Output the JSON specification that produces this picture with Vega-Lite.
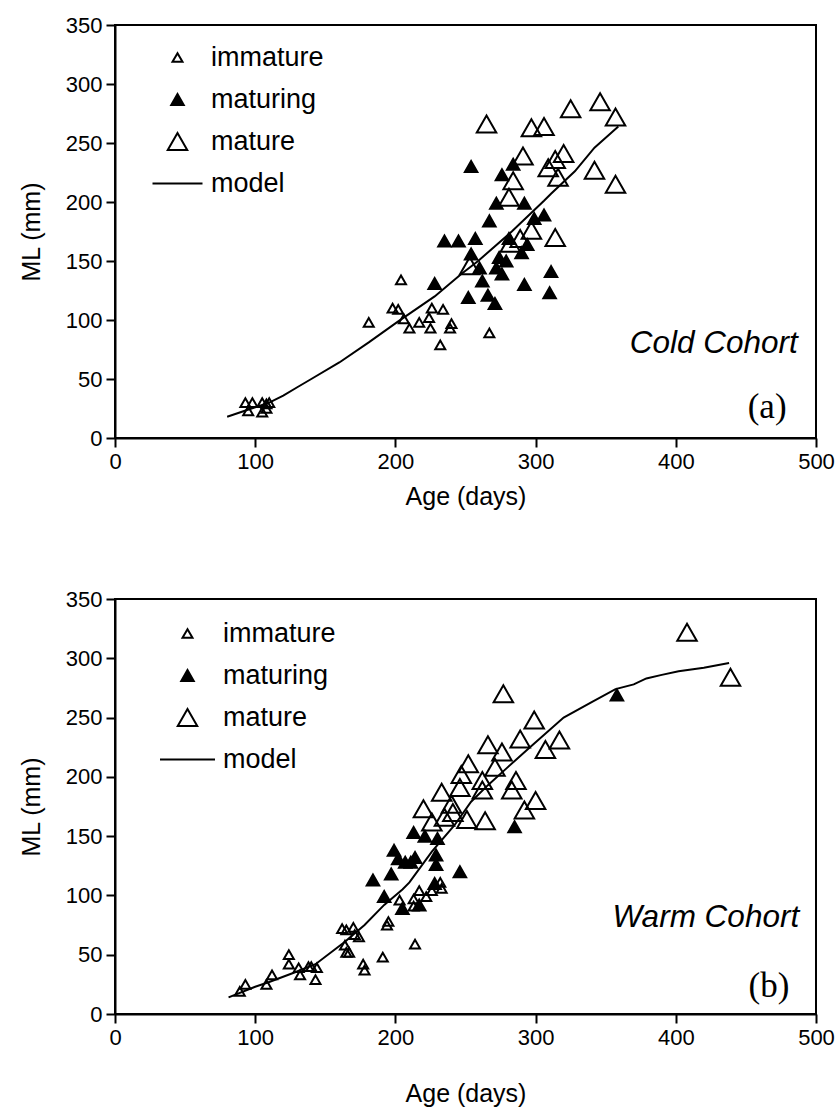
{
  "$schema": "https://vega.github.io/schema/vega-lite/v6.json",
  "padding": {"left": 18, "top": 13, "right": 5, "bottom": 5},
  "spacing": 77,
  "background": "white",
  "datasets": {
    "pointsA": [
      {"age": 93, "ml": 30, "stage": "immature"}, {"age": 98, "ml": 30, "stage": "immature"}, {"age": 95, "ml": 23, "stage": "immature"},
      {"age": 105, "ml": 30, "stage": "immature"}, {"age": 105, "ml": 22, "stage": "immature"}, {"age": 108, "ml": 29, "stage": "immature"},
      {"age": 110, "ml": 30, "stage": "immature"}, {"age": 108, "ml": 25, "stage": "immature"}, {"age": 181, "ml": 98, "stage": "immature"},
      {"age": 198, "ml": 110, "stage": "immature"}, {"age": 202, "ml": 109, "stage": "immature"}, {"age": 204, "ml": 134, "stage": "immature"},
      {"age": 206, "ml": 101, "stage": "immature"}, {"age": 210, "ml": 93, "stage": "immature"}, {"age": 217, "ml": 98, "stage": "immature"},
      {"age": 224, "ml": 102, "stage": "immature"}, {"age": 225, "ml": 93, "stage": "immature"}, {"age": 226, "ml": 110, "stage": "immature"},
      {"age": 234, "ml": 109, "stage": "immature"}, {"age": 232, "ml": 79, "stage": "immature"}, {"age": 240, "ml": 97, "stage": "immature"},
      {"age": 239, "ml": 93, "stage": "immature"}, {"age": 267, "ml": 89, "stage": "immature"},
      {"age": 228, "ml": 131, "stage": "maturing"}, {"age": 235, "ml": 167, "stage": "maturing"}, {"age": 245, "ml": 167, "stage": "maturing"},
      {"age": 257, "ml": 169, "stage": "maturing"}, {"age": 254, "ml": 230, "stage": "maturing"}, {"age": 252, "ml": 119, "stage": "maturing"},
      {"age": 254, "ml": 156, "stage": "maturing"}, {"age": 260, "ml": 144, "stage": "maturing"}, {"age": 262, "ml": 133, "stage": "maturing"},
      {"age": 266, "ml": 121, "stage": "maturing"}, {"age": 267, "ml": 184, "stage": "maturing"}, {"age": 271, "ml": 114, "stage": "maturing"},
      {"age": 272, "ml": 199, "stage": "maturing"}, {"age": 272, "ml": 144, "stage": "maturing"}, {"age": 274, "ml": 153, "stage": "maturing"},
      {"age": 276, "ml": 223, "stage": "maturing"}, {"age": 276, "ml": 139, "stage": "maturing"}, {"age": 279, "ml": 150, "stage": "maturing"},
      {"age": 281, "ml": 169, "stage": "maturing"}, {"age": 284, "ml": 232, "stage": "maturing"}, {"age": 290, "ml": 157, "stage": "maturing"},
      {"age": 292, "ml": 199, "stage": "maturing"}, {"age": 292, "ml": 130, "stage": "maturing"}, {"age": 294, "ml": 164, "stage": "maturing"},
      {"age": 299, "ml": 186, "stage": "maturing"}, {"age": 306, "ml": 189, "stage": "maturing"}, {"age": 311, "ml": 141, "stage": "maturing"},
      {"age": 310, "ml": 123, "stage": "maturing"},
      {"age": 253, "ml": 146, "stage": "mature"}, {"age": 265, "ml": 266, "stage": "mature"}, {"age": 281, "ml": 204, "stage": "mature"},
      {"age": 284, "ml": 218, "stage": "mature"}, {"age": 282, "ml": 165, "stage": "mature"}, {"age": 289, "ml": 169, "stage": "mature"},
      {"age": 291, "ml": 239, "stage": "mature"}, {"age": 297, "ml": 263, "stage": "mature"}, {"age": 297, "ml": 176, "stage": "mature"},
      {"age": 306, "ml": 264, "stage": "mature"}, {"age": 309, "ml": 229, "stage": "mature"}, {"age": 314, "ml": 236, "stage": "mature"},
      {"age": 314, "ml": 170, "stage": "mature"}, {"age": 316, "ml": 221, "stage": "mature"}, {"age": 320, "ml": 241, "stage": "mature"},
      {"age": 325, "ml": 279, "stage": "mature"}, {"age": 342, "ml": 227, "stage": "mature"}, {"age": 346, "ml": 285, "stage": "mature"},
      {"age": 357, "ml": 272, "stage": "mature"}, {"age": 357, "ml": 215, "stage": "mature"}
    ],
    "modelA": [
      {"age": 80, "ml": 18}, {"age": 100, "ml": 26}, {"age": 110, "ml": 30}, {"age": 120, "ml": 36}, {"age": 130, "ml": 43},
      {"age": 140, "ml": 50}, {"age": 160, "ml": 64}, {"age": 181, "ml": 81}, {"age": 201, "ml": 98}, {"age": 228, "ml": 120},
      {"age": 247, "ml": 139}, {"age": 259, "ml": 150}, {"age": 283, "ml": 175}, {"age": 306, "ml": 201}, {"age": 311, "ml": 207},
      {"age": 328, "ml": 226}, {"age": 342, "ml": 246}, {"age": 359, "ml": 264}
    ],
    "pointsB": [
      {"age": 89, "ml": 19, "stage": "immature"}, {"age": 93, "ml": 25, "stage": "immature"}, {"age": 108, "ml": 25, "stage": "immature"},
      {"age": 112, "ml": 33, "stage": "immature"}, {"age": 124, "ml": 50, "stage": "immature"}, {"age": 124, "ml": 42, "stage": "immature"},
      {"age": 131, "ml": 39, "stage": "immature"}, {"age": 132, "ml": 33, "stage": "immature"}, {"age": 138, "ml": 40, "stage": "immature"},
      {"age": 140, "ml": 40, "stage": "immature"}, {"age": 144, "ml": 39, "stage": "immature"}, {"age": 143, "ml": 29, "stage": "immature"},
      {"age": 162, "ml": 72, "stage": "immature"}, {"age": 165, "ml": 71, "stage": "immature"}, {"age": 170, "ml": 73, "stage": "immature"},
      {"age": 171, "ml": 67, "stage": "immature"}, {"age": 174, "ml": 65, "stage": "immature"}, {"age": 164, "ml": 58, "stage": "immature"},
      {"age": 165, "ml": 52, "stage": "immature"}, {"age": 167, "ml": 52, "stage": "immature"}, {"age": 177, "ml": 42, "stage": "immature"},
      {"age": 178, "ml": 37, "stage": "immature"}, {"age": 191, "ml": 48, "stage": "immature"}, {"age": 194, "ml": 75, "stage": "immature"},
      {"age": 195, "ml": 78, "stage": "immature"}, {"age": 214, "ml": 59, "stage": "immature"}, {"age": 203, "ml": 96, "stage": "immature"},
      {"age": 213, "ml": 97, "stage": "immature"}, {"age": 217, "ml": 104, "stage": "immature"}, {"age": 222, "ml": 99, "stage": "immature"},
      {"age": 226, "ml": 104, "stage": "immature"}, {"age": 232, "ml": 111, "stage": "immature"}, {"age": 233, "ml": 106, "stage": "immature"},
      {"age": 213, "ml": 91, "stage": "immature"},
      {"age": 184, "ml": 113, "stage": "maturing"}, {"age": 192, "ml": 99, "stage": "maturing"}, {"age": 197, "ml": 118, "stage": "maturing"},
      {"age": 199, "ml": 138, "stage": "maturing"}, {"age": 202, "ml": 131, "stage": "maturing"}, {"age": 211, "ml": 128, "stage": "maturing"},
      {"age": 214, "ml": 132, "stage": "maturing"}, {"age": 213, "ml": 153, "stage": "maturing"}, {"age": 221, "ml": 150, "stage": "maturing"},
      {"age": 230, "ml": 148, "stage": "maturing"}, {"age": 229, "ml": 134, "stage": "maturing"}, {"age": 229, "ml": 126, "stage": "maturing"},
      {"age": 228, "ml": 110, "stage": "maturing"}, {"age": 205, "ml": 89, "stage": "maturing"}, {"age": 217, "ml": 92, "stage": "maturing"},
      {"age": 246, "ml": 120, "stage": "maturing"}, {"age": 285, "ml": 158, "stage": "maturing"}, {"age": 358, "ml": 269, "stage": "maturing"},
      {"age": 207, "ml": 128, "stage": "maturing"},
      {"age": 220, "ml": 173, "stage": "mature"}, {"age": 226, "ml": 162, "stage": "mature"}, {"age": 233, "ml": 187, "stage": "mature"},
      {"age": 235, "ml": 166, "stage": "mature"}, {"age": 240, "ml": 177, "stage": "mature"}, {"age": 241, "ml": 170, "stage": "mature"},
      {"age": 246, "ml": 191, "stage": "mature"}, {"age": 247, "ml": 202, "stage": "mature"}, {"age": 251, "ml": 164, "stage": "mature"},
      {"age": 252, "ml": 211, "stage": "mature"}, {"age": 262, "ml": 197, "stage": "mature"}, {"age": 262, "ml": 189, "stage": "mature"},
      {"age": 264, "ml": 163, "stage": "mature"}, {"age": 266, "ml": 227, "stage": "mature"}, {"age": 271, "ml": 208, "stage": "mature"},
      {"age": 276, "ml": 221, "stage": "mature"}, {"age": 277, "ml": 270, "stage": "mature"}, {"age": 283, "ml": 189, "stage": "mature"},
      {"age": 286, "ml": 197, "stage": "mature"}, {"age": 289, "ml": 232, "stage": "mature"}, {"age": 292, "ml": 172, "stage": "mature"},
      {"age": 300, "ml": 180, "stage": "mature"}, {"age": 299, "ml": 248, "stage": "mature"}, {"age": 307, "ml": 223, "stage": "mature"},
      {"age": 317, "ml": 231, "stage": "mature"}, {"age": 408, "ml": 322, "stage": "mature"}, {"age": 439, "ml": 284, "stage": "mature"}
    ],
    "modelB": [
      {"age": 81, "ml": 14}, {"age": 100, "ml": 23}, {"age": 110, "ml": 27}, {"age": 128, "ml": 35}, {"age": 143, "ml": 42},
      {"age": 164, "ml": 61}, {"age": 178, "ml": 75}, {"age": 192, "ml": 92}, {"age": 205, "ml": 105}, {"age": 210, "ml": 111},
      {"age": 226, "ml": 137}, {"age": 242, "ml": 159}, {"age": 254, "ml": 179}, {"age": 266, "ml": 193}, {"age": 280, "ml": 208},
      {"age": 295, "ml": 224}, {"age": 320, "ml": 250}, {"age": 340, "ml": 263}, {"age": 357, "ml": 274}, {"age": 370, "ml": 278},
      {"age": 379, "ml": 283}, {"age": 390, "ml": 286}, {"age": 402, "ml": 289}, {"age": 420, "ml": 292}, {"age": 438, "ml": 296}
    ]
  },
  "vconcat": [
    {
      "width": 701,
      "height": 413,
      "layer": [
        {
          "data": {"name": "pointsA"},
          "mark": {"type": "point", "filled": true, "size": 100, "strokeWidth": 2, "opacity": 1},
          "encoding": {
            "x": {"field": "age", "type": "quantitative", "scale": {"domain": [0, 500], "nice": false},
                  "axis": {"title": "Age (days)", "values": [0, 100, 200, 300, 400, 500], "titlePadding": 12}},
            "y": {"field": "ml", "type": "quantitative", "scale": {"domain": [0, 350], "nice": false},
                  "axis": {"title": "ML (mm)", "values": [0, 50, 100, 150, 200, 250, 300, 350], "titlePadding": 21}},
            "shape": {"field": "stage", "type": "nominal",
                      "scale": {"domain": ["immature", "maturing", "mature", "model"],
                                "range": ["M0,-0.87L-1,0.87L1,0.87Z", "M0,-1.1L-1.25,1.1L1.25,1.1Z", "M0,-1.7L-1.95,1.7L1.95,1.7Z", "M-5,0H5"]},
                      "legend": {"orient": "none", "legendX": 49, "legendY": 19, "title": null, "labelOffset": 20}},
            "fill": {"field": "stage", "type": "nominal",
                     "scale": {"domain": ["immature", "maturing", "mature", "model"], "range": ["transparent", "black", "transparent", "transparent"]},
                     "legend": {"orient": "none", "legendX": 49, "legendY": 19, "title": null, "labelOffset": 20}},
            "stroke": {"field": "stage", "type": "nominal",
                       "scale": {"domain": ["immature", "maturing", "mature", "model"], "range": ["black", "black", "black", "black"]},
                       "legend": {"orient": "none", "legendX": 49, "legendY": 19, "title": null, "labelOffset": 20}}
          }
        },
        {
          "data": {"name": "modelA"},
          "mark": {"type": "line", "color": "black", "strokeWidth": 2},
          "encoding": {"x": {"field": "age", "type": "quantitative"}, "y": {"field": "ml", "type": "quantitative"}}
        },
        {
          "data": {"values": [{"label": "Cold Cohort"}]},
          "mark": {"type": "text", "font": "Liberation Sans", "fontStyle": "italic", "fontSize": 31.5, "align": "right", "baseline": "middle", "color": "black"},
          "encoding": {"x": {"datum": 487}, "y": {"datum": 80}, "text": {"field": "label"}}
        },
        {
          "data": {"values": [{"label": "(a)"}]},
          "mark": {"type": "text", "font": "Liberation Serif", "fontSize": 35, "align": "right", "baseline": "middle", "color": "black"},
          "encoding": {"x": {"datum": 479}, "y": {"datum": 26}, "text": {"field": "label"}}
        }
      ]
    },
    {
      "width": 701,
      "height": 415,
      "layer": [
        {
          "data": {"name": "pointsB"},
          "mark": {"type": "point", "filled": true, "size": 100, "strokeWidth": 2, "opacity": 1},
          "encoding": {
            "x": {"field": "age", "type": "quantitative", "scale": {"domain": [0, 500], "nice": false},
                  "axis": {"title": "Age (days)", "values": [0, 100, 200, 300, 400, 500], "titlePadding": 33}},
            "y": {"field": "ml", "type": "quantitative", "scale": {"domain": [0, 350], "nice": false},
                  "axis": {"title": "ML (mm)", "values": [0, 50, 100, 150, 200, 250, 300, 350], "titlePadding": 21}},
            "shape": {"field": "stage", "type": "nominal",
                      "scale": {"domain": ["immature", "maturing", "mature", "model"],
                                "range": ["M0,-0.87L-1,0.87L1,0.87Z", "M0,-1.1L-1.25,1.1L1.25,1.1Z", "M0,-1.7L-1.95,1.7L1.95,1.7Z", "M-5.5,0H5.5"]},
                      "legend": {"orient": "none", "legendX": 59, "legendY": 21, "title": null, "labelOffset": 22}},
            "fill": {"field": "stage", "type": "nominal",
                     "scale": {"domain": ["immature", "maturing", "mature", "model"], "range": ["transparent", "black", "transparent", "transparent"]},
                     "legend": {"orient": "none", "legendX": 59, "legendY": 21, "title": null, "labelOffset": 22}},
            "stroke": {"field": "stage", "type": "nominal",
                       "scale": {"domain": ["immature", "maturing", "mature", "model"], "range": ["black", "black", "black", "black"]},
                       "legend": {"orient": "none", "legendX": 59, "legendY": 21, "title": null, "labelOffset": 22}}
          }
        },
        {
          "data": {"name": "modelB"},
          "mark": {"type": "line", "color": "black", "strokeWidth": 2},
          "encoding": {"x": {"field": "age", "type": "quantitative"}, "y": {"field": "ml", "type": "quantitative"}}
        },
        {
          "data": {"values": [{"label": "Warm Cohort"}]},
          "mark": {"type": "text", "font": "Liberation Sans", "fontStyle": "italic", "fontSize": 31.5, "align": "right", "baseline": "middle", "color": "black"},
          "encoding": {"x": {"datum": 488}, "y": {"datum": 81}, "text": {"field": "label"}}
        },
        {
          "data": {"values": [{"label": "(b)"}]},
          "mark": {"type": "text", "font": "Liberation Serif", "fontSize": 35, "align": "right", "baseline": "middle", "color": "black"},
          "encoding": {"x": {"datum": 481}, "y": {"datum": 24}, "text": {"field": "label"}}
        }
      ]
    }
  ],
  "resolve": {
    "scale": {"shape": "independent", "fill": "independent", "stroke": "independent"},
    "legend": {"shape": "independent", "fill": "independent", "stroke": "independent"}
  },
  "config": {
    "view": {"stroke": "black", "strokeWidth": 2},
    "axis": {
      "domainColor": "black", "domainWidth": 2, "tickColor": "black", "tickWidth": 2, "tickSize": 9,
      "grid": false, "labelFont": "Liberation Sans", "labelFontSize": 22, "labelColor": "black",
      "labelPadding": 4, "labelFlush": false, "labelOverlap": false,
      "titleFont": "Liberation Sans", "titleFontSize": 25, "titleFontWeight": "normal", "titleColor": "black"
    },
    "legend": {
      "labelFont": "Liberation Sans", "labelFontSize": 27, "labelColor": "black",
      "symbolStrokeWidth": 2, "symbolSize": 100, "rowPadding": 14, "padding": 0
    }
  }
}
